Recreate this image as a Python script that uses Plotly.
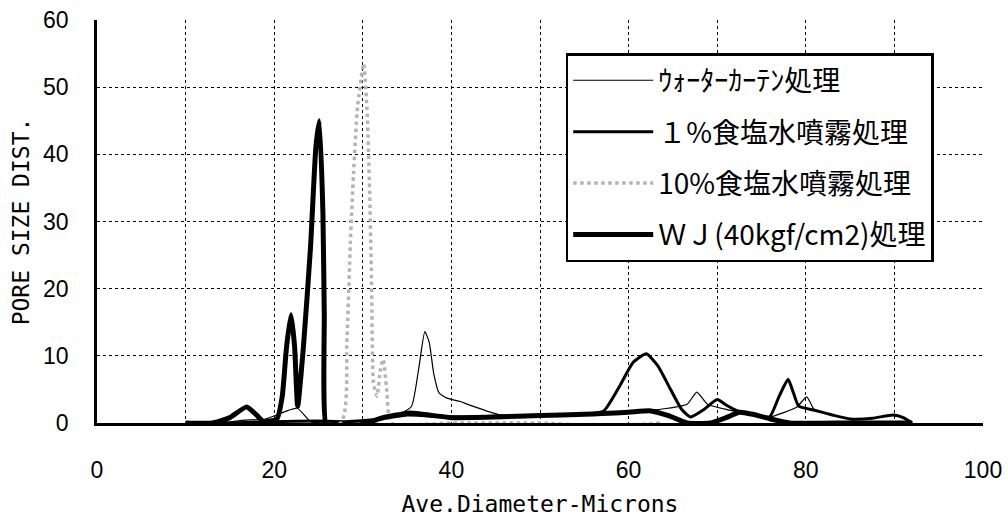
import plotly.graph_objects as go

# ---- data ----
wc_x = [10, 14, 16.4, 19, 22.6, 24.1, 26, 30, 34, 35.5, 36.3, 37.0, 37.5, 38.0, 38.6, 39.5, 41, 42, 45.5, 50, 56, 60, 63.6, 66.6, 67.7, 68.9, 71.1, 73.7, 75.9, 79.0, 80.1, 81, 83, 85, 87.5, 89.9, 91, 92]
wc_y = [0, 0, 0.4, 0.6, 2.2, 0.2, 0, 0.3, 1.2, 2.5, 8, 13.6, 12, 7.4, 4.5, 3.7, 3.2, 2.7, 1.2, 1.0, 1.3, 1.7, 2.05, 2.8, 4.6, 2.8, 2.0, 1.4, 0.9, 2.4, 3.9, 1.9, 1.2, 0.6, 0.7, 1.2, 0.8, 0]

s1_x = [10, 15, 20, 25, 28, 32, 35, 40, 45, 50, 55, 57.2, 59, 60.5, 62, 63.3, 64.7, 66, 67, 68.5, 70, 71.1, 72.3, 73.7, 75.9, 77, 78.0, 78.6, 79.2, 81, 83, 85, 87.5, 89.9, 91, 92]
s1_y = [0, 0, 0.2, 0.3, 0.2, 0.6, 1.2, 0.9, 1.0, 1.1, 1.3, 1.8, 5.5, 9, 10.3, 8.5, 5.1, 2, 0.9, 2.0, 3.5, 2.6, 1.8, 1.4, 0.9, 4, 6.5, 4.5, 2.5, 1.9, 1.2, 0.6, 0.7, 1.2, 0.8, 0]

s10_x = [10, 27.5, 28.2, 28.6, 28.95, 29.4, 30.1, 30.5, 30.8, 31.0, 31.2, 31.6, 32.0, 32.3, 32.7, 33.2, 40, 50, 55, 60, 63.6]
s10_y = [0, 0, 12, 27, 37, 47, 53.5, 46, 33, 20, 6, 4, 8, 9.5, 5, 0, 0, 0, -0.3, -0.3, 0]

wj_x = [10, 13, 15, 16.9, 18, 18.8, 20.3, 20.9, 21.4, 21.9, 22.3, 22.65, 23.3, 24.1, 24.7, 25.1, 25.5, 25.65, 25.9, 27, 29, 30.5, 32, 35.3, 38, 40, 45, 50, 55, 57, 60, 62.5, 64.5, 66.6, 69.2, 71, 72.5, 74, 76, 78.2, 85, 92]
wj_y = [0, 0, 0.8, 2.4, 1.2, 0.2, 0.6, 3.9, 11.4, 16.1, 11.4, 2.5, 11.4, 26.2, 41, 45, 31.2, 16.4, -0.5, -0.6, -0.5, 0, 0.7, 1.5, 1.1, 0.8, 0.9, 1.1, 1.3, 1.4, 1.6, 1.8, 1.1, 0, 0, 0.8, 1.6, 1.3, 0.6, 0, 0, 0]

names = ["ｳｫｰﾀｰｶｰﾃﾝ処理", "１%食塩水噴霧処理", "10%食塩水噴霧処理", "ＷＪ(40kgf/cm2)処理"]

x_ticks = [0, 20, 40, 60, 80, 100]
y_ticks = [0, 10, 20, 30, 40, 50, 60]

fig = go.Figure()
fig.add_trace(go.Scatter(x=wc_x, y=wc_y, name=names[0], mode="lines", legendgroup="a",
                         line=dict(color="black", width=1.2, shape="spline", smoothing=0.5)))
fig.add_trace(go.Scatter(x=s1_x, y=s1_y, name=names[1], mode="lines", legendgroup="b",
                         line=dict(color="black", width=3, shape="spline", smoothing=0.5)))
fig.add_trace(go.Scatter(x=s10_x, y=s10_y, name=names[2], mode="lines", legendgroup="c",
                         line=dict(color="#b4b4b4", width=3.5, dash="dot", shape="spline", smoothing=0.5)))
fig.add_trace(go.Scatter(x=wj_x, y=wj_y, name=names[3], mode="lines", legendgroup="d",
                         line=dict(color="black", width=5, shape="spline", smoothing=0.5)))

axis_font = dict(family="DejaVu Sans Mono", size=23, color="black")
tick_font = dict(family="Liberation Sans", size=23, color="black")

fig.update_layout(
    width=1008, height=517,
    margin=dict(l=97, r=25, t=20, b=94, autoexpand=False),
    paper_bgcolor="white", plot_bgcolor="white",
    showlegend=True,
    legend=dict(x=0.529, y=0.918, xanchor="left", yanchor="top",
                bgcolor="white", bordercolor="black", borderwidth=2.5,
                font=dict(family="Noto Sans CJK JP", size=28, color="black"),
                tracegroupgap=12, itemwidth=80),
    xaxis=dict(range=[0, 100], tickvals=x_ticks, showline=True, linecolor="black", linewidth=2.5,
               automargin=False,
               showgrid=True, gridcolor="black", griddash="dot", gridwidth=1,
               minor=dict(dtick=10, showgrid=True, gridcolor="black", griddash="dot", gridwidth=1),
               ticks="", tickfont=tick_font, ticklabelstandoff=25, zeroline=False,
               title=dict(text="Ave.Diameter-Microns", font=axis_font, standoff=20)),
    yaxis=dict(range=[0, 60], tickvals=y_ticks, showline=True, linecolor="black", linewidth=2.5,
               automargin=False,
               showgrid=True, gridcolor="black", griddash="dot", gridwidth=1,
               ticks="", tickfont=tick_font, ticklabelstandoff=21, zeroline=False,
               title=dict(text="PORE SIZE DIST.", font=axis_font, standoff=8)),
)

fig.write_html("out.html")
